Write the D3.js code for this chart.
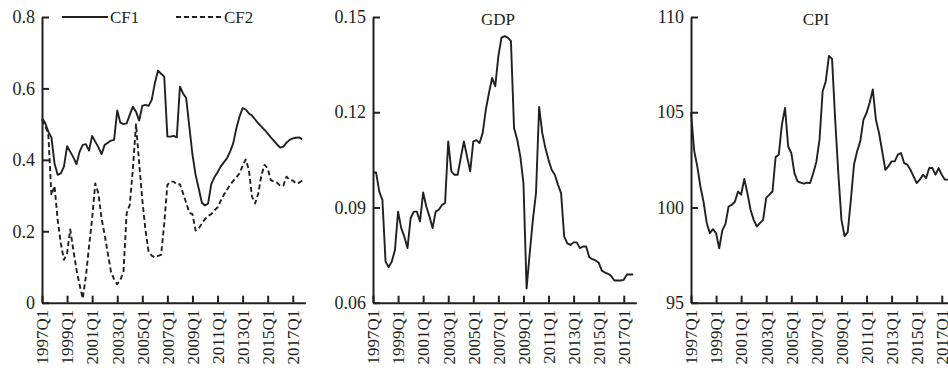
<!DOCTYPE html>
<html>
<head>
<meta charset="utf-8">
<script src="https://cdn.jsdelivr.net/npm/d3@7"></script>
<style>
  body { margin: 0; background: #fff; }
  svg { display: block; }
</style>
</head>
<body>
<svg id="chart" width="948" height="368"></svg>
<script>
// quarterly categories 1997Q1 .. 2017Q4
const quarters = d3.range(1997, 2018).flatMap(yr => [1, 2, 3, 4].map(q => `${yr}Q${q}`))
const tickLabels = ['1997Q1', '1999Q1', '2001Q1', '2003Q1', '2005Q1', '2007Q1', '2009Q1', '2011Q1', '2013Q1', '2015Q1', '2017Q1']

const cf1 = [
  0.516, 0.504, 0.479, 0.463, 0.390, 0.358, 0.362, 0.381, 0.438, 0.423,
  0.407, 0.388, 0.423, 0.442, 0.444, 0.426, 0.467, 0.451, 0.435, 0.416,
  0.442, 0.448, 0.454, 0.456, 0.538, 0.504, 0.500, 0.502, 0.526, 0.549,
  0.535, 0.510, 0.551, 0.554, 0.551, 0.568, 0.614, 0.650, 0.641, 0.633,
  0.465, 0.465, 0.467, 0.463, 0.605, 0.586, 0.573, 0.493, 0.415, 0.358,
  0.320, 0.280, 0.272, 0.278, 0.332, 0.351, 0.365, 0.381, 0.393, 0.404,
  0.423, 0.446, 0.488, 0.521, 0.545, 0.541, 0.530, 0.524, 0.513, 0.502,
  0.493, 0.484, 0.474, 0.463, 0.453, 0.443, 0.434, 0.437, 0.448, 0.456,
  0.460, 0.462, 0.463, 0.458
]
const cf2 = [
  0.513, 0.495, 0.474, 0.301, 0.327, 0.232, 0.166, 0.120, 0.138, 0.205,
  0.148, 0.092, 0.050, 0.012, 0.073, 0.157, 0.236, 0.334, 0.306, 0.236,
  0.190, 0.138, 0.087, 0.066, 0.052, 0.064, 0.087, 0.250, 0.274, 0.376,
  0.500, 0.390, 0.288, 0.204, 0.143, 0.132, 0.127, 0.131, 0.134, 0.222,
  0.330, 0.339, 0.339, 0.331, 0.332, 0.306, 0.280, 0.252, 0.248, 0.202,
  0.208, 0.222, 0.234, 0.243, 0.248, 0.258, 0.267, 0.285, 0.302, 0.316,
  0.330, 0.341, 0.351, 0.362, 0.383, 0.401, 0.372, 0.297, 0.278, 0.306,
  0.357, 0.386, 0.376, 0.343, 0.339, 0.336, 0.327, 0.328, 0.353, 0.344,
  0.342, 0.334, 0.336, 0.342
]
const gdp = [
  0.1010, 0.1010, 0.0950, 0.0924, 0.0730, 0.0712, 0.0730, 0.0766, 0.0887, 0.0835,
  0.0808, 0.0772, 0.0866, 0.0887, 0.0887, 0.0856, 0.0947, 0.0903, 0.0872, 0.0835,
  0.0887, 0.0893, 0.0908, 0.0914, 0.1108, 0.1014, 0.1003, 0.1003, 0.1056, 0.1108,
  0.1061, 0.1014, 0.1108, 0.1112, 0.1103, 0.1135, 0.1208, 0.1261, 0.1308, 0.1282,
  0.1377, 0.1435, 0.1440, 0.1435, 0.1425, 0.1150, 0.1114, 0.1061, 0.0977, 0.0645,
  0.0756, 0.0861, 0.0945, 0.1217, 0.1135, 0.1087, 0.1050, 0.1019, 0.1003, 0.0972,
  0.0945, 0.0808, 0.0787, 0.0782, 0.0790, 0.0790, 0.0772, 0.0777, 0.0777, 0.0743,
  0.0737, 0.0733, 0.0726, 0.0701, 0.0695, 0.0691, 0.0684, 0.0670, 0.0670, 0.0670,
  0.0672, 0.0689, 0.0689, 0.0689
]
const cpi = [
  105.0, 103.0, 102.16, 101.1, 100.3, 99.2, 98.65, 98.86, 98.65, 97.86,
  98.8, 99.14, 100.05, 100.14, 100.3, 100.84, 100.67, 101.5, 100.75, 99.88,
  99.35, 99.0, 99.18, 99.35, 100.5, 100.67, 100.84, 102.65, 102.77, 104.35,
  105.23, 103.2, 102.86, 101.8, 101.37, 101.3, 101.25, 101.3, 101.28, 101.8,
  102.4, 103.56, 106.1, 106.63, 107.95, 107.8, 104.6, 101.8, 99.35, 98.5,
  98.7, 100.4, 102.25, 102.95, 103.47, 104.6, 104.96, 105.5, 106.2, 104.6,
  103.9, 102.95, 101.98, 102.16, 102.42, 102.42, 102.77, 102.86, 102.33, 102.25,
  101.98, 101.63, 101.28, 101.46, 101.72, 101.54, 102.07, 102.07, 101.72, 102.07,
  101.72, 101.46, 101.46, 101.46
]

const cfTicks = [0, 0.2, 0.4, 0.6, 0.8]
const gdpTicks = [0.06, 0.09, 0.12, 0.15]
const cpiTicks = [95, 100, 105, 110]

const INK = '#231f20'
const SERIF = '"Liberation Serif", "Times New Roman", serif'
const PLOT_TOP = 17
const PLOT_BOTTOM = 302.7
const PLOT_W = 263.3

const svg = d3.select('#chart')

function drawPanel(x0, domain, ticks, fmt) {
  const g = svg.append('g').attr('transform', `translate(${x0},0)`)
  const x = d3.scaleLinear().domain([0, quarters.length]).range([0, PLOT_W])
  const y = d3.scaleLinear().domain(domain).range([PLOT_BOTTOM, PLOT_TOP])

  g.append('g')
    .call(d3.axisLeft(y).tickValues(ticks).tickFormat(fmt).tickSize(-7).tickSizeOuter(0).tickPadding(7))
    .attr('color', INK)
    .attr('font-family', SERIF)
    .attr('font-size', 18)
    .call(a => a.selectAll('line, path').attr('stroke-width', 2))

  const xa = g.append('g')
    .attr('transform', `translate(0,${PLOT_BOTTOM})`)
    .call(d3.axisBottom(x)
      .tickValues(tickLabels.map(t => quarters.indexOf(t)))
      .tickFormat(i => quarters[i])
      .tickSize(-7).tickSizeOuter(0))
    .attr('color', INK)
    .attr('font-family', SERIF)
    .attr('font-size', 17)
  xa.selectAll('line, path').attr('stroke-width', 2)
  xa.selectAll('text')
    .attr('transform', 'rotate(-90)')
    .attr('text-anchor', 'end')
    .attr('x', -7)
    .attr('y', 0)
    .attr('dy', '0.34em')

  return { g, x, y }
}

function addLine(p, values, dash) {
  p.g.append('path')
    .datum(values)
    .attr('fill', 'none')
    .attr('stroke', INK)
    .attr('stroke-width', 1.9)
    .attr('stroke-linejoin', 'round')
    .attr('stroke-dasharray', dash || null)
    .attr('d', d3.line().x((d, i) => p.x(i)).y(d => p.y(d)))
}

function addTitle(p, label) {
  p.g.append('text')
    .attr('x', 125)
    .attr('y', 25)
    .attr('text-anchor', 'middle')
    .attr('font-family', SERIF)
    .attr('font-size', 17)
    .attr('fill', INK)
    .text(label)
}

// panel 1: CF1 / CF2
const p1 = drawPanel(42, [0, 0.8], cfTicks, d => d === 0 ? '0' : d3.format('.1f')(d))
addLine(p1, cf2, '5,3')
addLine(p1, cf1)

const legend = [
  { name: 'CF1', x: 20, dash: null },
  { name: 'CF2', x: 134, dash: '5,3' }
]
legend.forEach(l => {
  p1.g.append('line')
    .attr('x1', l.x).attr('x2', l.x + 46)
    .attr('y1', PLOT_TOP).attr('y2', PLOT_TOP)
    .attr('stroke', INK).attr('stroke-width', 1.9)
    .attr('stroke-dasharray', l.dash)
  p1.g.append('text')
    .attr('x', l.x + 48).attr('y', 23)
    .attr('font-family', SERIF).attr('font-size', 17)
    .attr('fill', INK)
    .text(l.name)
})

// panel 2: GDP
const p2 = drawPanel(373, [0.06, 0.15], gdpTicks, d3.format('.2f'))
addLine(p2, gdp)
addTitle(p2, 'GDP')

// panel 3: CPI
const p3 = drawPanel(691, [95, 110], cpiTicks, d3.format('d'))
addLine(p3, cpi)
addTitle(p3, 'CPI')
</script>
</body>
</html>
